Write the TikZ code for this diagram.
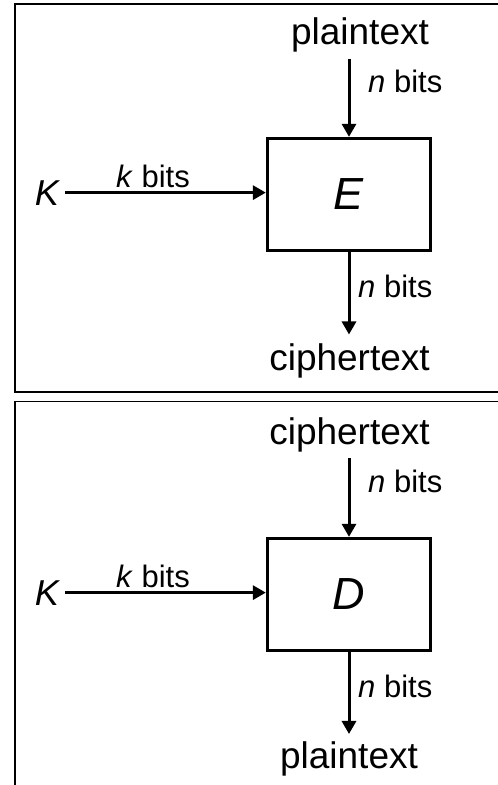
\documentclass[tikz,border=0pt]{standalone}
\usepackage{fontspec}
\setmainfont{Liberation Sans}
\usetikzlibrary{arrows.meta}
\begin{document}
\begin{tikzpicture}[x=1pt,y=-1pt,
  frame/.style={line width=2pt,draw=black},
  blockbox/.style={draw,line width=3.3pt,minimum width=163pt,minimum height=112pt,inner sep=0pt,font=\fontsize{45}{50}\selectfont\itshape},
  bigtext/.style={inner sep=0pt,font=\fontsize{37}{40}\selectfont},
  lbl/.style={inner sep=0pt,font=\fontsize{31}{34}\selectfont},
  keytext/.style={inner sep=0pt,font=\fontsize{36}{40}\selectfont\itshape},
  arr/.style={line width=3pt,-{Triangle[length=13pt,width=14pt]}}]
\useasboundingbox (0,0) rectangle (498,785);
\fill[white] (0,0) rectangle (498,785);
% frames
\draw[frame] (500,4) -- (15,4) -- (15,391.5) -- (500,391.5);
\draw[frame,line width=1.6pt] (500,401.5) -- (15,401.5) -- (15,788);
% top panel
\node[blockbox] (E) at (349,194.5) {E};
\node[bigtext,anchor=base] (pt1) at (360,44.5) {plaintext};
\node[bigtext,anchor=base] (ct1) at (349.5,370) {ciphertext};
\node[keytext,anchor=base] (K1) at (47,205) {K};
\node[lbl,anchor=base] (kb1) at (153,187) {\textit{k} bits};
\node[lbl,anchor=base west] (nb1a) at (368,92) {\textit{n} bits};
\node[lbl,anchor=base west] (nb1b) at (358,297) {\textit{n} bits};
\draw[arr,shorten <=6.5pt] (E.north |- pt1.south) -- (E.north);
\draw[arr,shorten >=8.5pt] (E.south) -- (E.south |- ct1.north);
\draw[arr,shorten <=6pt] (K1.east) -- (K1.east -| E.west);
% bottom panel
\node[blockbox] (D) at (349,594.5) {D};
\node[bigtext,anchor=base] (ct2) at (349.5,444) {ciphertext};
\node[bigtext,anchor=base] (pt2) at (349,768) {plaintext};
\node[keytext,anchor=base] (K2) at (47,605) {K};
\node[lbl,anchor=base] (kb2) at (153,587) {\textit{k} bits};
\node[lbl,anchor=base west] (nb2a) at (368,492) {\textit{n} bits};
\node[lbl,anchor=base west] (nb2b) at (358,697) {\textit{n} bits};
\draw[arr,shorten <=6.5pt] (D.north |- ct2.south) -- (D.north);
\draw[arr,shorten >=7pt] (D.south) -- (D.south |- pt2.north);
\draw[arr,shorten <=6pt] (K2.east) -- (K2.east -| D.west);
\end{tikzpicture}
\end{document}
